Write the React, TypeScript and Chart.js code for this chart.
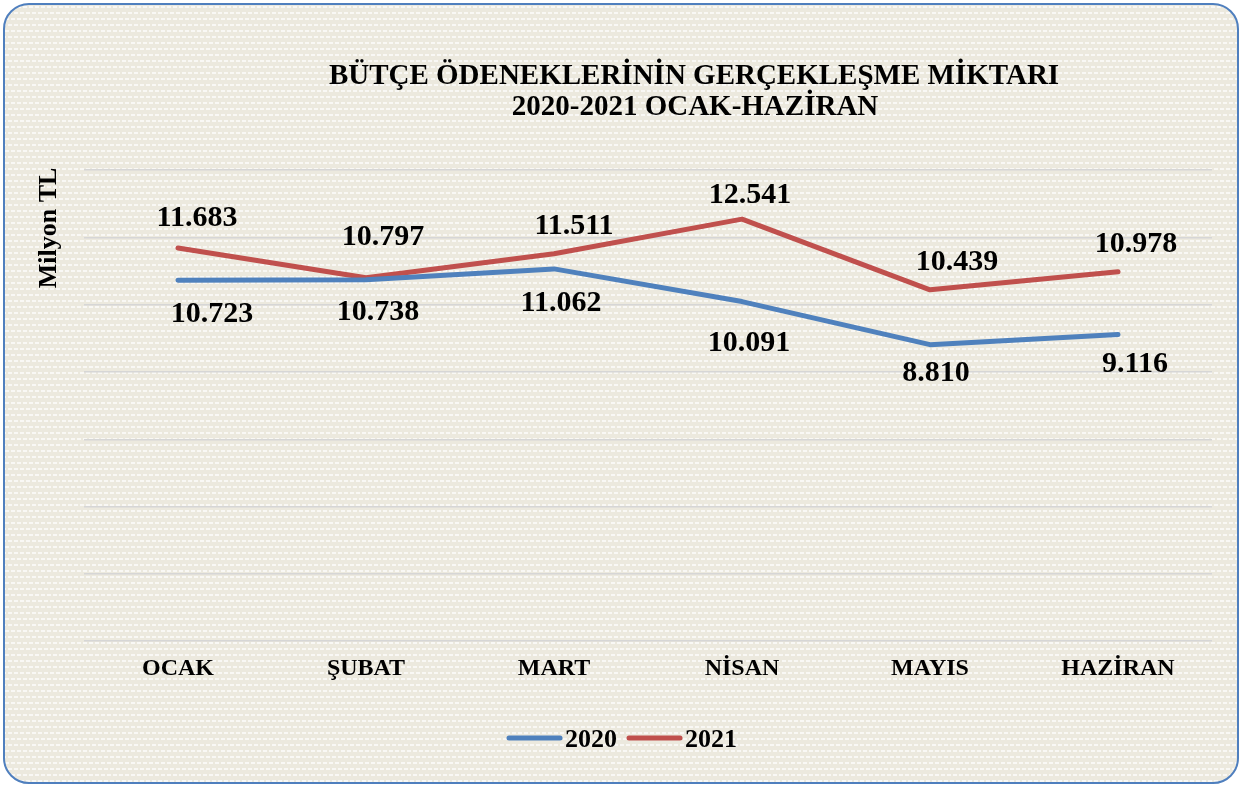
import React, { useEffect, useRef } from "react";
import { Chart, registerables } from "chart.js";

Chart.register(...registerables);

// ---- data ----
const MONTHS = ["OCAK", "ŞUBAT", "MART", "NİSAN", "MAYIS", "HAZİRAN"];
const SERIES_NAMES = ["2020", "2021"];
const VALUES_2020 = [10.723, 10.738, 11.062, 10.091, 8.81, 9.116];
const VALUES_2021 = [11.683, 10.797, 11.511, 12.541, 10.439, 10.978];
const Y_MIN = 0;
const Y_MAX = 14;
const Y_STEP = 2;
const TITLE_LINES = ["BÜTÇE ÖDENEKLERİNİN GERÇEKLEŞME MİKTARI", "2020-2021 OCAK-HAZİRAN"];
const Y_TITLE = "Milyon TL";

// ---- styles / layout ----
const COLORS = ["#4f81bd", "#c0504d"];
const FONT = '"Liberation Serif", "Times New Roman", serif';
const LABEL_SIZE = 30;
// label centre offsets relative to each point (dx, dy)
const LABEL_OFFSETS = [
  [[34, 32], [12, 30], [7, 32], [7, 39], [6, 26], [17, 27]],
  [[19, -32], [17, -43], [20, -30], [8, -26], [27, -30], [18, -30]],
];

const PATTERN =
  "url(\"data:image/svg+xml;utf8," +
  encodeURIComponent(
    "<svg xmlns='http://www.w3.org/2000/svg' width='12' height='12'>" +
      "<rect width='12' height='12' fill='#ece9de'/>" +
      "<g fill='#ffffff' fill-opacity='0.7'>" +
      "<rect x='0' y='1' width='4' height='2'/><rect x='6' y='1' width='4' height='2'/>" +
      "<rect x='3' y='7' width='4' height='2'/><rect x='9' y='7' width='3' height='2'/><rect x='0' y='7' width='1' height='2'/>" +
      "</g></svg>"
  ) +
  "\")";

const overlayPlugin = {
  id: "overlay",
  afterDatasetsDraw(chart: any) {
    const ctx: CanvasRenderingContext2D = chart.ctx;
    ctx.save();
    ctx.fillStyle = "#000";
    ctx.textAlign = "center";
    ctx.textBaseline = "alphabetic";

    // data labels
    ctx.font = `bold ${LABEL_SIZE}px ${FONT}`;
    chart.data.datasets.forEach((ds: any, di: number) => {
      const meta = chart.getDatasetMeta(di);
      meta.data.forEach((pt: any, i: number) => {
        const v = ds.data[i] as number;
        const [dx, dy] = LABEL_OFFSETS[di][i];
        ctx.fillText(v.toFixed(3), pt.x + dx, pt.y + dy + 0.338 * LABEL_SIZE);
      });
    });

    // title
    ctx.font = `bold 29px ${FONT}`;
    ctx.fillText(TITLE_LINES[0], 694, 84);
    ctx.fillText(TITLE_LINES[1], 695, 115);

    // y title
    ctx.save();
    ctx.translate(56, 228);
    ctx.rotate(-Math.PI / 2);
    ctx.font = `bold 26px ${FONT}`;
    ctx.fillText(Y_TITLE, 0, 0);
    ctx.restore();

    // legend
    ctx.font = `bold 26px ${FONT}`;
    const lineLen = 55;
    const gapLT = 3;
    const gapItems = 10;
    const widths = SERIES_NAMES.map((n) => ctx.measureText(n).width);
    const total = widths.reduce((a, w) => a + w + lineLen + gapLT, 0) + gapItems;
    let x = 622 - total / 2;
    const ly = 738;
    ctx.textAlign = "left";
    SERIES_NAMES.forEach((n, i) => {
      ctx.strokeStyle = COLORS[i];
      ctx.lineWidth = 5;
      ctx.lineCap = "round";
      ctx.beginPath();
      ctx.moveTo(x + 2, ly);
      ctx.lineTo(x + lineLen - 2, ly);
      ctx.stroke();
      x += lineLen + gapLT;
      ctx.fillText(n, x, ly + 0.338 * 26);
      x += widths[i] + gapItems;
    });

    ctx.restore();
  },
};

export default function App() {
  const ref = useRef<HTMLCanvasElement>(null);

  useEffect(() => {
    document.body.style.margin = "0";
    const chart = new Chart(ref.current!, {
      type: "line",
      data: {
        labels: MONTHS,
        datasets: [
          {
            label: SERIES_NAMES[0],
            data: VALUES_2020,
            borderColor: COLORS[0],
            backgroundColor: COLORS[0],
            borderWidth: 5,
            pointRadius: 0,
            borderCapStyle: "round",
            borderJoinStyle: "round",
            tension: 0,
          },
          {
            label: SERIES_NAMES[1],
            data: VALUES_2021,
            borderColor: COLORS[1],
            backgroundColor: COLORS[1],
            borderWidth: 5,
            pointRadius: 0,
            borderCapStyle: "round",
            borderJoinStyle: "round",
            tension: 0,
          },
        ],
      },
      options: {
        animation: false,
        responsive: false,
        events: [],
        layout: { padding: { left: 84, right: 30, top: 170, bottom: 89 } },
        plugins: {
          legend: { display: false },
          title: { display: false },
          tooltip: { enabled: false },
        },
        scales: {
          x: {
            offset: true,
            grid: { display: false, drawTicks: false },
            border: { display: false },
            ticks: {
              color: "#000",
              font: { family: FONT, size: 24, weight: "bold" },
              padding: 13,
              maxRotation: 0,
              autoSkip: false,
            },
          },
          y: {
            min: Y_MIN,
            max: Y_MAX,
            ticks: { display: false, stepSize: Y_STEP },
            grid: { color: "#d6d6d6", lineWidth: 1.5, drawTicks: false },
            border: { display: false },
          },
        },
      },
      plugins: [overlayPlugin],
    });
    return () => chart.destroy();
  }, []);

  return (
    <div
      style={{
        position: "fixed",
        left: 0,
        top: 0,
        width: 1242,
        height: 785,
        overflow: "hidden",
        background: "#fff",
      }}
    >
      <div
        style={{
          position: "absolute",
          left: 3,
          top: 3,
          width: 1236,
          height: 781,
          boxSizing: "border-box",
          border: "2px solid #4f7fbe",
          borderRadius: 26,
          backgroundImage: PATTERN,
          backgroundColor: "#eeebe1",
        }}
      />
      <canvas
        ref={ref}
        width={1242}
        height={785}
        style={{ position: "absolute", left: 0, top: 0, width: 1242, height: 785 }}
      />
    </div>
  );
}
